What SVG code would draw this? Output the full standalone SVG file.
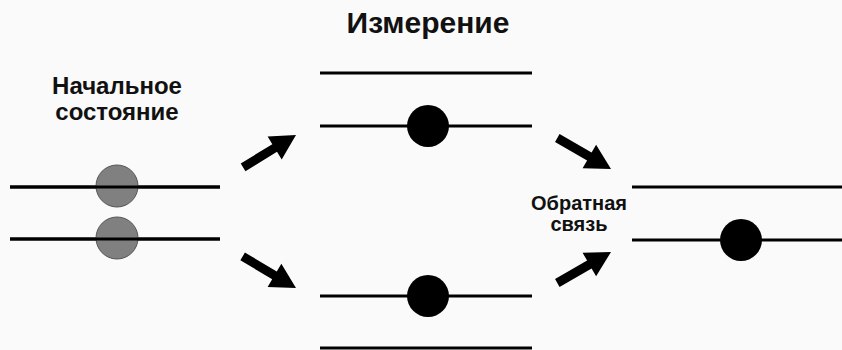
<svg xmlns="http://www.w3.org/2000/svg" width="842" height="350" viewBox="0 0 842 350">
<style>
.ln{stroke:#000;stroke-width:3;fill:none}
.g{fill:#808080;stroke:#555;stroke-width:1}
.b{fill:#000}
.ar{fill:#000}
text{font-family:"Liberation Sans",Arial,sans-serif;font-weight:bold;fill:#111;text-anchor:middle}
</style>
<defs>
<path id="arrow" d="M0,0 L-25,-13.5 L-25,-4.5 L-62,-4.5 L-62,4.5 L-25,4.5 L-25,13.5 Z"/>
</defs>
<rect width="842" height="350" fill="#fafafa"/>
<text x="428" y="33" font-size="30">Измерение</text>
<g id="initial">
<text x="117" y="94" font-size="24">Начальное</text>
<text x="117" y="120" font-size="24">состояние</text>
<line class="ln" x1="10" y1="187" x2="220" y2="187"/>
<line class="ln" x1="10" y1="239" x2="220" y2="239"/>
<circle class="g" cx="117" cy="186" r="21"/>
<circle class="g" cx="117" cy="238" r="21"/>
<line class="ln" x1="10" y1="187" x2="220" y2="187"/>
<line class="ln" x1="10" y1="239" x2="220" y2="239"/>
</g>
<g id="meas-top">
<line class="ln" x1="320" y1="73" x2="532" y2="73"/>
<line class="ln" x1="320" y1="126" x2="532" y2="126"/>
<circle class="b" cx="428" cy="126" r="21"/>
</g>
<g id="meas-bottom">
<line class="ln" x1="320" y1="296" x2="532" y2="296"/>
<line class="ln" x1="320" y1="348" x2="532" y2="348"/>
<circle class="b" cx="428" cy="296" r="21"/>
</g>
<g id="feedback">
<text x="579" y="210" font-size="20">Обратная</text>
<text x="579" y="231" font-size="20">связь</text>
</g>
<g id="final">
<line class="ln" x1="632" y1="187" x2="842" y2="187"/>
<line class="ln" x1="632" y1="240" x2="842" y2="240"/>
<circle class="b" cx="741" cy="240" r="21"/>
</g>
<g id="connectors">
<use href="#arrow" class="ar" transform="translate(296,135) rotate(-31.4)"/>
<use href="#arrow" class="ar" transform="translate(296,288) rotate(30.6)"/>
<use href="#arrow" class="ar" transform="translate(611,169) rotate(30)"/>
<use href="#arrow" class="ar" transform="translate(611,252) rotate(-30)"/>
</g>
</svg>
